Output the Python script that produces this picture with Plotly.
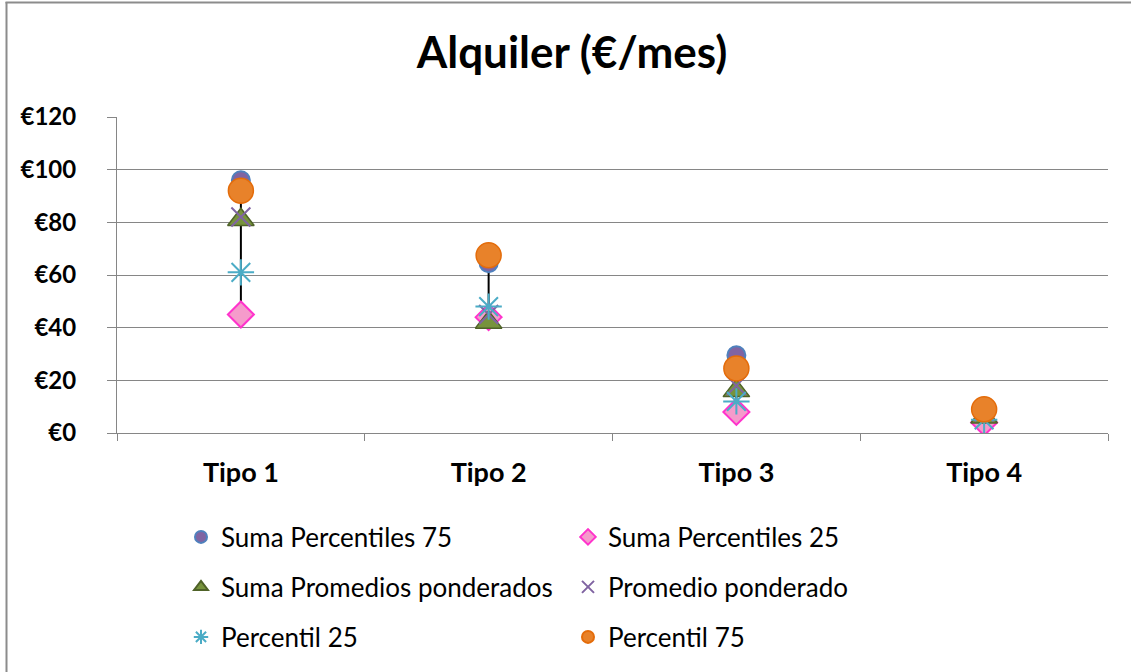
import plotly.graph_objects as go

categories = ["Tipo 1", "Tipo 2", "Tipo 3", "Tipo 4"]
suma_p75 = [96, 64.5, 29.5, 9.5]
suma_p25 = [45, 44, 8, 4]
suma_prom = [81, 42, 16, 6]
prom_pond = [82, 45, 18, 8]
percentil_25 = [61, 48, 12, 5]
percentil_75 = [92, 67.5, 24.5, 9]
y_ticks = [0, 20, 40, 60, 80, 100, 120]
y_tick_labels = ["€0", "€20", "€40", "€60", "€80", "€100", "€120"]

FONT = "Lato"
W, H = 1131, 672
L, R, T, B = 117, 23, 117, 239
pw, ph = W - L - R, H - T - B

series = [
    ("Suma Percentiles 75", suma_p75, dict(symbol="circle", size=18, color="#8064A2", line=dict(color="#4F81BD", width=2)), "legend"),
    ("Suma Percentiles 25", suma_p25, dict(symbol="diamond", size=20, color="#F59BCB", line=dict(color="#FF33CC", width=2)), "legend"),
    ("Suma Promedios ponderados", suma_prom, dict(symbol="triangle-up", size=23, color="#77933C", line=dict(color="#4F6228", width=1.5)), "legend2"),
    ("Promedio ponderado", prom_pond, dict(symbol="x-thin", size=19, color="#8064A2", line=dict(color="#8064A2", width=2)), "legend2"),
    ("Percentil 25", percentil_25, dict(symbol="asterisk", size=22, color="#4BACC6", line=dict(color="#4BACC6", width=2)), "legend3"),
    ("Percentil 75", percentil_75, dict(symbol="circle", size=25, color="#E8822A", line=dict(color="#E46C0A", width=1.5)), "legend3"),
]

fig = go.Figure()

# high-low lines (from each category's max to min)
all_vals = [s[1] for s in series]
lx, ly = [], []
for i, c in enumerate(categories):
    vals = [v[i] for v in all_vals]
    lx += [c, c, None]
    ly += [max(vals), min(vals), None]
fig.add_trace(go.Scatter(x=lx, y=ly, mode="lines", line=dict(color="black", width=2),
                         showlegend=False, hoverinfo="skip"))

for name, vals, mk, lg in series:
    fig.add_trace(go.Scatter(x=categories, y=vals, mode="markers", name=name, marker=mk, legend=lg))

# outer chart border (only left and top edges visible in the cropped original)
def px_x(p):
    return (p - L) / pw

def px_y(p):
    return (T + ph - p) / ph

fig.add_shape(type="line", xref="paper", yref="paper",
              x0=px_x(6.5), x1=px_x(6.5), y0=px_y(2), y1=px_y(H + 2),
              line=dict(color="#8C8C8C", width=2), layer="below")
fig.add_shape(type="line", xref="paper", yref="paper",
              x0=px_x(5.5), x1=px_x(W + 2), y0=px_y(2.5), y1=px_y(2.5),
              line=dict(color="#8C8C8C", width=2), layer="below")

def leg(py):
    return dict(orientation="h", x=px_x(181), xanchor="left", y=px_y(py), yanchor="middle",
                entrywidth=342, font=dict(size=26, family=FONT, color="black"),
                itemsizing="constant", bgcolor="rgba(0,0,0,0)")

fig.update_layout(
    width=W, height=H,
    margin=dict(l=L, r=R, t=T, b=B),
    paper_bgcolor="white", plot_bgcolor="white",
    font=dict(family=FONT, color="black"),
    title=dict(text="<b>Alquiler (€/mes)</b>", x=572 / W, xanchor="center", y=0.922, yanchor="middle",
               font=dict(size=44, family=FONT, color="black")),
    xaxis=dict(type="category", range=[-0.5, 3.5], showgrid=False, showline=True,
               linecolor="#868686", linewidth=1, ticks="outside", tickson="boundaries",
               ticklen=7, tickcolor="#868686",
               tickfont=dict(size=27, family=FONT, color="black", weight="bold"), ticklabelstandoff=16),
    yaxis=dict(range=[0, 120], tickvals=y_ticks, ticktext=y_tick_labels, showgrid=True,
               gridcolor="#868686", gridwidth=1, showline=True, linecolor="#868686", linewidth=1,
               ticks="outside", ticklen=9, tickcolor="#868686", zeroline=False,
               tickfont=dict(size=24, family=FONT, color="black", weight="bold"), ticklabelstandoff=26),
    legend=leg(537),
    legend2=leg(587),
    legend3=leg(637),
    showlegend=True,
)

fig.write_html("out.html", config={"displayModeBar": False},
               post_script="document.body.style.margin='0';document.body.style.overflow='hidden';")
